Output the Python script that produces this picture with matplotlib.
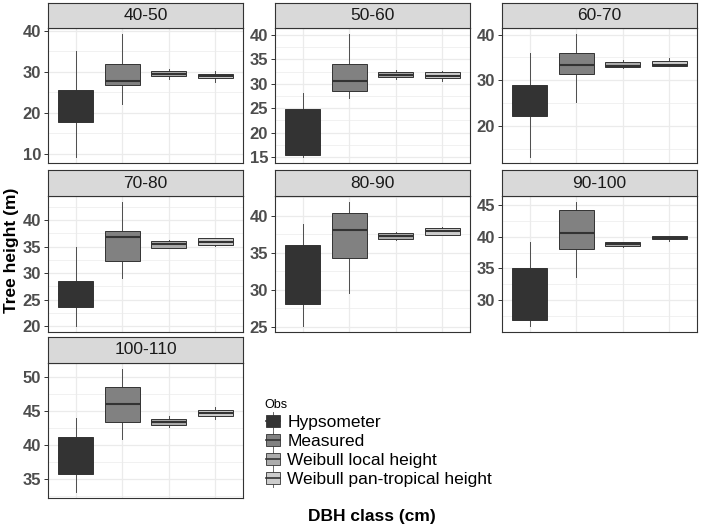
import matplotlib
matplotlib.use("Agg")
import matplotlib.pyplot as plt
from matplotlib.ticker import MultipleLocator
from matplotlib.legend_handler import HandlerBase
from matplotlib.patches import Patch, Rectangle
from matplotlib.lines import Line2D

plt.rcParams["font.family"] = ["Liberation Sans", "DejaVu Sans"]

dbh_classes = ["40-50", "50-60", "60-70", "70-80", "80-90", "90-100", "100-110"]
obs_labels = ["Hypsometer", "Measured", "Weibull local height", "Weibull pan-tropical height"]
obs_colors = ["#333333", "#818181", "#acacac", "#cccccc"]

# one row per DBH class, one value per Obs group
whislo = [
    [9.3, 22.3, 28.3, 27.6],
    [15.0, 27.0, 30.9, 30.6],
    [13.3, 25.2, 32.8, 33.1],
    [20.05, 29.0, 34.7, 35.2],
    [25.1, 29.5, 36.7, 37.3],
    [26.0, 33.7, 38.4, 39.3],
    [33.1, 40.9, 42.6, 43.8],
]
q1 = [
    [17.7, 26.9, 29.1, 28.6],
    [15.45, 28.6, 31.3, 31.2],
    [22.2, 31.4, 32.9, 33.2],
    [23.6, 32.2, 34.8, 35.25],
    [28.1, 34.3, 36.8, 37.4],
    [26.9, 38.1, 38.6, 39.6],
    [35.7, 43.3, 42.9, 44.2],
]
med = [
    [21.0, 27.8, 29.6, 29.1],
    [17.0, 30.6, 31.8, 31.7],
    [25.0, 33.3, 33.1, 33.4],
    [26.0, 36.9, 35.5, 35.9],
    [32.0, 38.0, 37.2, 37.9],
    [30.0, 40.5, 38.85, 39.8],
    [38.0, 46.0, 43.4, 44.7],
]
q3 = [
    [25.5, 32.0, 30.1, 29.5],
    [24.9, 34.0, 32.5, 32.4],
    [28.9, 36.0, 34.0, 34.3],
    [28.5, 37.9, 36.1, 36.6],
    [36.0, 40.3, 37.7, 38.3],
    [35.0, 44.2, 39.1, 40.05],
    [41.2, 48.5, 43.8, 45.1],
]
whishi = [
    [35.1, 39.2, 30.6, 30.2],
    [28.1, 40.2, 32.8, 32.7],
    [36.0, 40.1, 34.5, 34.9],
    [35.0, 43.4, 36.3, 36.7],
    [38.9, 41.8, 37.8, 38.5],
    [39.2, 45.4, 39.2, 40.15],
    [43.9, 51.1, 44.3, 45.5],
]
y_steps = [10, 5, 10, 5, 5, 5, 5]


class BoxKeyHandler(HandlerBase):
    def create_artists(self, legend, orig_handle, xdescent, ydescent,
                       width, height, fontsize, trans):
        x0, y0 = -xdescent, -ydescent
        cx = x0 + width / 2
        whisker = Line2D([cx, cx], [y0 - 0.1 * height, y0 + 1.1 * height],
                         color="#4d4d4d", lw=0.6, transform=trans)
        box = Rectangle((x0 + 0.1 * width, y0 + 0.1 * height), 0.8 * width, 0.8 * height,
                        facecolor=orig_handle.get_facecolor(), edgecolor="#333333",
                        lw=0.6, transform=trans)
        median = Line2D([x0 + 0.1 * width, x0 + 0.9 * width], [y0 + height / 2] * 2,
                        color="#333333", lw=1.2, transform=trans)
        return [whisker, box, median]


W, H = 701, 529
fig = plt.figure(figsize=(W / 100, H / 100), dpi=100)

col_x = [48, 275, 502]
panel_w = 195
rows = [(3, 28, 163), (170, 196, 332), (337, 363, 498)]

for i, cls in enumerate(dbh_classes):
    r, c = divmod(i, 3)
    strip_top, strip_bot, panel_bot = rows[r]
    x0 = col_x[c]
    ax = fig.add_axes([x0 / W, 1 - panel_bot / H, panel_w / W, (panel_bot - strip_bot) / H])
    sax = fig.add_axes([x0 / W, 1 - strip_bot / H, panel_w / W, (strip_bot - strip_top) / H])
    sax.set_facecolor("#d9d9d9")
    sax.set_xticks([])
    sax.set_yticks([])
    for s in sax.spines.values():
        s.set_color("#333333")
        s.set_linewidth(0.8)
    sax.text(0.5, 0.5, cls, ha="center", va="center", fontsize=12.5, color="#1a1a1a",
             transform=sax.transAxes)

    stats = []
    for j in range(4):
        stats.append(dict(whislo=whislo[i][j], q1=q1[i][j], med=med[i][j],
                          q3=q3[i][j], whishi=whishi[i][j], fliers=[]))
    bp = ax.bxp(stats, positions=[1, 2, 3, 4], widths=0.75, patch_artist=True,
                showcaps=False, showfliers=False,
                boxprops=dict(edgecolor="#333333", linewidth=0.7),
                medianprops=dict(color="#333333", linewidth=1.5),
                whiskerprops=dict(color="#4d4d4d", linewidth=0.7))
    for patch, col in zip(bp["boxes"], obs_colors):
        patch.set_facecolor(col)
        patch.set_zorder(3)
    for ln in bp["whiskers"]:
        ln.set_zorder(2.5)
    for ln in bp["medians"]:
        ln.set_zorder(3.5)

    ax.set_xlim(0.4, 4.6)
    ax.set_xticks([1, 2, 3, 4])
    ax.set_xticklabels([])
    ax.tick_params(axis="x", length=0)
    ax.yaxis.set_major_locator(MultipleLocator(y_steps[i]))
    ax.yaxis.set_minor_locator(MultipleLocator(y_steps[i] / 2))
    ax.tick_params(axis="y", which="major", length=3, width=0.7, color="#333333",
                   labelsize=12, labelcolor="#4d4d4d", pad=2)
    ax.tick_params(axis="y", which="minor", length=0)
    for lab in ax.get_yticklabels():
        lab.set_fontweight("bold")
    ax.grid(True, which="major", color="#ebebeb", linewidth=0.9, zorder=0)
    ax.grid(True, which="minor", axis="y", color="#ebebeb", linewidth=0.5, zorder=0)
    ax.set_axisbelow(True)
    for s in ax.spines.values():
        s.set_color("#333333")
        s.set_linewidth(0.8)

handles = [Patch(facecolor=col, label=lab) for col, lab in zip(obs_colors, obs_labels)]
leg = fig.legend(handles=handles, labels=obs_labels, loc="upper left",
                 bbox_to_anchor=(264 / W, 1 - 399 / H), frameon=False, title="Obs",
                 fontsize=12.5, title_fontsize=9, handlelength=1.05, handleheight=1.0,
                 handletextpad=0.3, labelspacing=0.13, borderpad=0, borderaxespad=0,
                 handler_map={Patch: BoxKeyHandler()})
leg._legend_box.align = "left"

fig.text(372 / W, 1 - 517 / H, "DBH class (cm)", ha="center", va="center",
         fontsize=12.5, fontweight="bold", color="black")
fig.text(12 / W, 1 - 250 / H, "Tree height (m)", ha="center", va="center",
         rotation=90, fontsize=12.5, fontweight="bold", color="black")

fig.savefig("out.png", dpi=100)
